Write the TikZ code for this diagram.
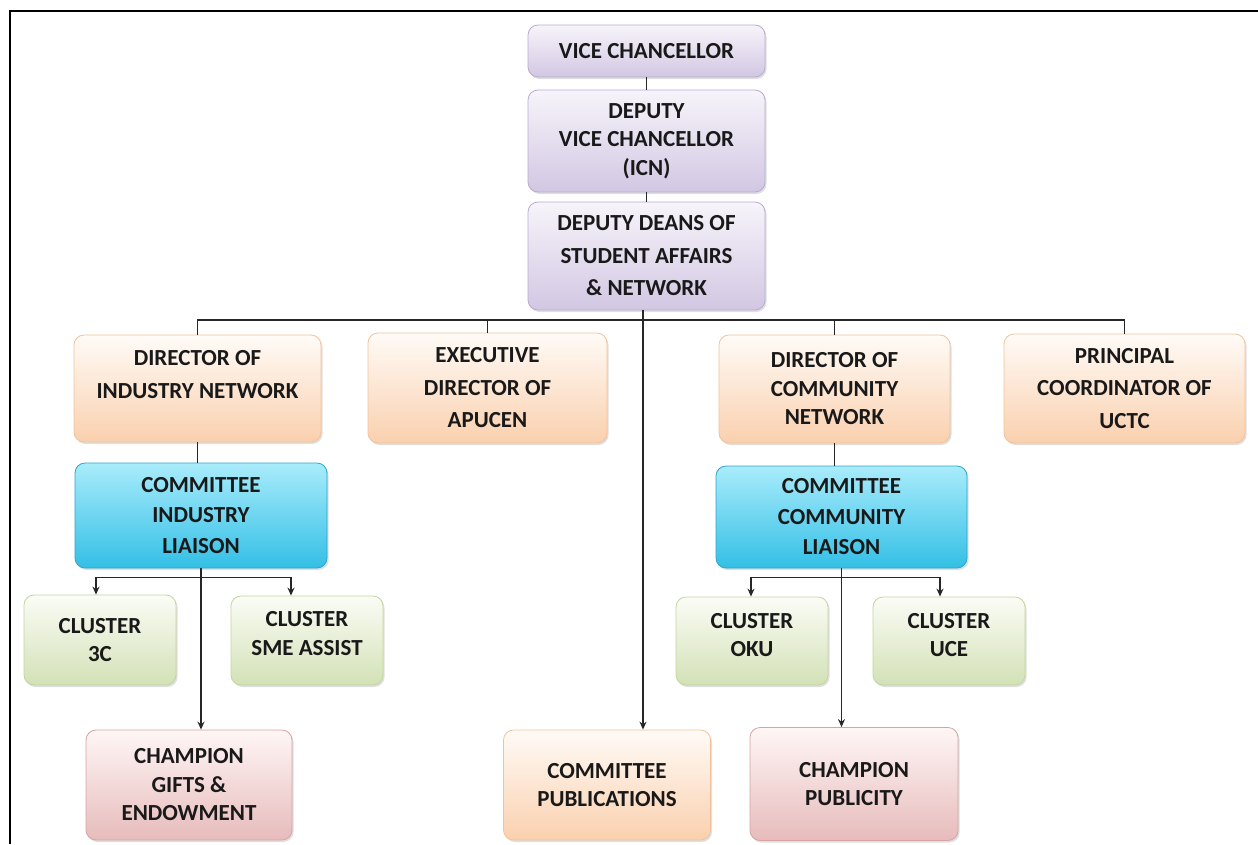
\documentclass[tikz,border=0pt]{standalone}
\usepackage{fontspec}
\setmainfont{Carlito}
\usetikzlibrary{arrows.meta,shadows}

\definecolor{lavtop}{HTML}{F7F4FA}
\definecolor{lavbot}{HTML}{D2C7E3}
\definecolor{lavline}{HTML}{B9AAD0}
\definecolor{peachtop}{HTML}{FFFBF7}
\definecolor{peachbot}{HTML}{FAD0AE}
\definecolor{peachline}{HTML}{F0C39C}
\definecolor{cyantop}{HTML}{A9ECFB}
\definecolor{cyanbot}{HTML}{33BFE6}
\definecolor{cyanline}{HTML}{2AA7CB}
\definecolor{greentop}{HTML}{FBFCF6}
\definecolor{greenbot}{HTML}{D3E1B6}
\definecolor{greenline}{HTML}{C2D5A0}
\definecolor{pinktop}{HTML}{FFF6F6}
\definecolor{pinkbot}{HTML}{E7BBBB}
\definecolor{pinkline}{HTML}{D8A3A3}

\tikzset{
  orgbox/.style={draw, line width=0.8pt, rounded corners=10pt, align=center,
    inner sep=0pt, font=\fontsize{23}{28.5}\selectfont\bfseries, text=black!90,
    drop shadow={shadow xshift=1.5pt,shadow yshift=-2pt,opacity=0.25}},
  loose/.style={font=\fontsize{23}{32.5}\selectfont\bfseries},
  mid/.style={font=\fontsize{23}{30.5}\selectfont\bfseries},
  lavbox/.style={orgbox, draw=lavline, top color=lavtop, bottom color=lavbot},
  peachbox/.style={orgbox, draw=peachline, top color=peachtop, bottom color=peachbot},
  cyanbox/.style={orgbox, mid, draw=cyanline, top color=cyantop, bottom color=cyanbot},
  greenbox/.style={orgbox, draw=greenline, top color=greentop, bottom color=greenbot},
  pinkbox/.style={orgbox, draw=pinkline, top color=pinktop, bottom color=pinkbot},
  link/.style={line width=1.7pt, black!85},
  arrow/.style={link, -{Stealth[length=8pt,width=7pt]}}
}

\begin{document}
\begin{tikzpicture}[x=1pt,y=-1pt]
	\useasboundingbox (0,0) rectangle (1258,844);
	% frame
	\draw[line width=2.8pt] (10,844) -- (10,11) -- (1258,11);

	% top of the chart
	\node[lavbox, minimum width=237pt, minimum height=52pt] (vc) at (646.5,51) {VICE CHANCELLOR};
	\node[lavbox, minimum width=237pt, minimum height=102pt] (dvc) at (646.5,141) {DEPUTY\\VICE CHANCELLOR\\(ICN)};
	\node[lavbox, loose, minimum width=237pt, minimum height=108pt] (dds) at (646.5,256) {DEPUTY DEANS OF\\STUDENT AFFAIRS\\\& NETWORK};

	% directors
	\node[peachbox, loose, minimum width=247pt, minimum height=107pt] (din) at (197.5,388.5) {DIRECTOR OF\\INDUSTRY NETWORK\\[-4pt]};
	\node[peachbox, loose, minimum width=239pt, minimum height=110pt] (exd) at (487.5,388) {EXECUTIVE\\DIRECTOR OF\\APUCEN};
	\node[peachbox, minimum width=231pt, minimum height=108pt] (dcn) at (834.5,389) {DIRECTOR OF\\COMMUNITY\\NETWORK};
	\node[peachbox, loose, minimum width=241pt, minimum height=109pt] (pcu) at (1124.5,388.5) {PRINCIPAL\\COORDINATOR OF\\UCTC};

	% committees
	\node[cyanbox, minimum width=252pt, minimum height=105pt] (cil) at (201,515.5) {COMMITTEE\\INDUSTRY\\LIAISON};
	\node[cyanbox, minimum width=251pt, minimum height=102pt] (ccl) at (841.5,517) {COMMITTEE\\COMMUNITY\\LIAISON};

	% clusters
	\node[greenbox, minimum width=152pt, minimum height=90pt] (c3c) at (100,640) {CLUSTER\\3C};
	\node[greenbox, minimum width=152pt, minimum height=89pt] (csme) at (307,640.5) {CLUSTER\\SME ASSIST\\[-14pt]};
	\node[greenbox, minimum width=152pt, minimum height=88pt] (coku) at (752,641) {CLUSTER\\OKU\\[-16pt]};
	\node[greenbox, minimum width=152pt, minimum height=88pt] (cuce) at (949,641) {CLUSTER\\UCE\\[-16pt]};

	% bottom row
	\node[pinkbox, minimum width=206pt, minimum height=110pt] (cge) at (189,785) {CHAMPION\\GIFTS \&\\ENDOWMENT};
	\node[peachbox, minimum width=207pt, minimum height=110pt] (cpu) at (607,785) {COMMITTEE\\PUBLICATIONS};
	\node[pinkbox, minimum width=208pt, minimum height=113pt] (cpy) at (854,784) {CHAMPION\\PUBLICITY};

	% connectors
	\coordinate (hub) at (643,320);
	\draw[link] (vc.south) -- (dvc.north);
	\draw[link] (dvc.south) -- (dds.south |- dvc.south) -- (dds.north);
	\draw[link] (din.north) |- (hub) -| (pcu.north);
	\draw[link] (exd.north) -- (exd.north |- hub);
	\draw[link] (dcn.north) -- (dcn.north |- hub);
	\draw[arrow] (hub |- dds.south) -- (hub |- cpu.north);
	\draw[link] (din.south) -- (din.south |- cil.north);
	\draw[link] (dcn.south) -- (dcn.south |- ccl.north);

	\coordinate (lsplit) at ([yshift=-9pt]cil.south);
	\draw[arrow] (lsplit) -| ([xshift=-4pt]c3c.north);
	\draw[arrow] (lsplit) -| ([xshift=-16pt]csme.north);
	\draw[arrow] (cil.south) -- (cil.south |- cge.north);

	\coordinate (rsplit) at ([yshift=-9pt]ccl.south);
	\draw[arrow] (rsplit) -| ([xshift=-1pt]coku.north);
	\draw[arrow] (rsplit) -| ([xshift=-9pt]cuce.north);
	\draw[arrow] (ccl.south) -- (ccl.south |- cpy.north);
\end{tikzpicture}
\end{document}
